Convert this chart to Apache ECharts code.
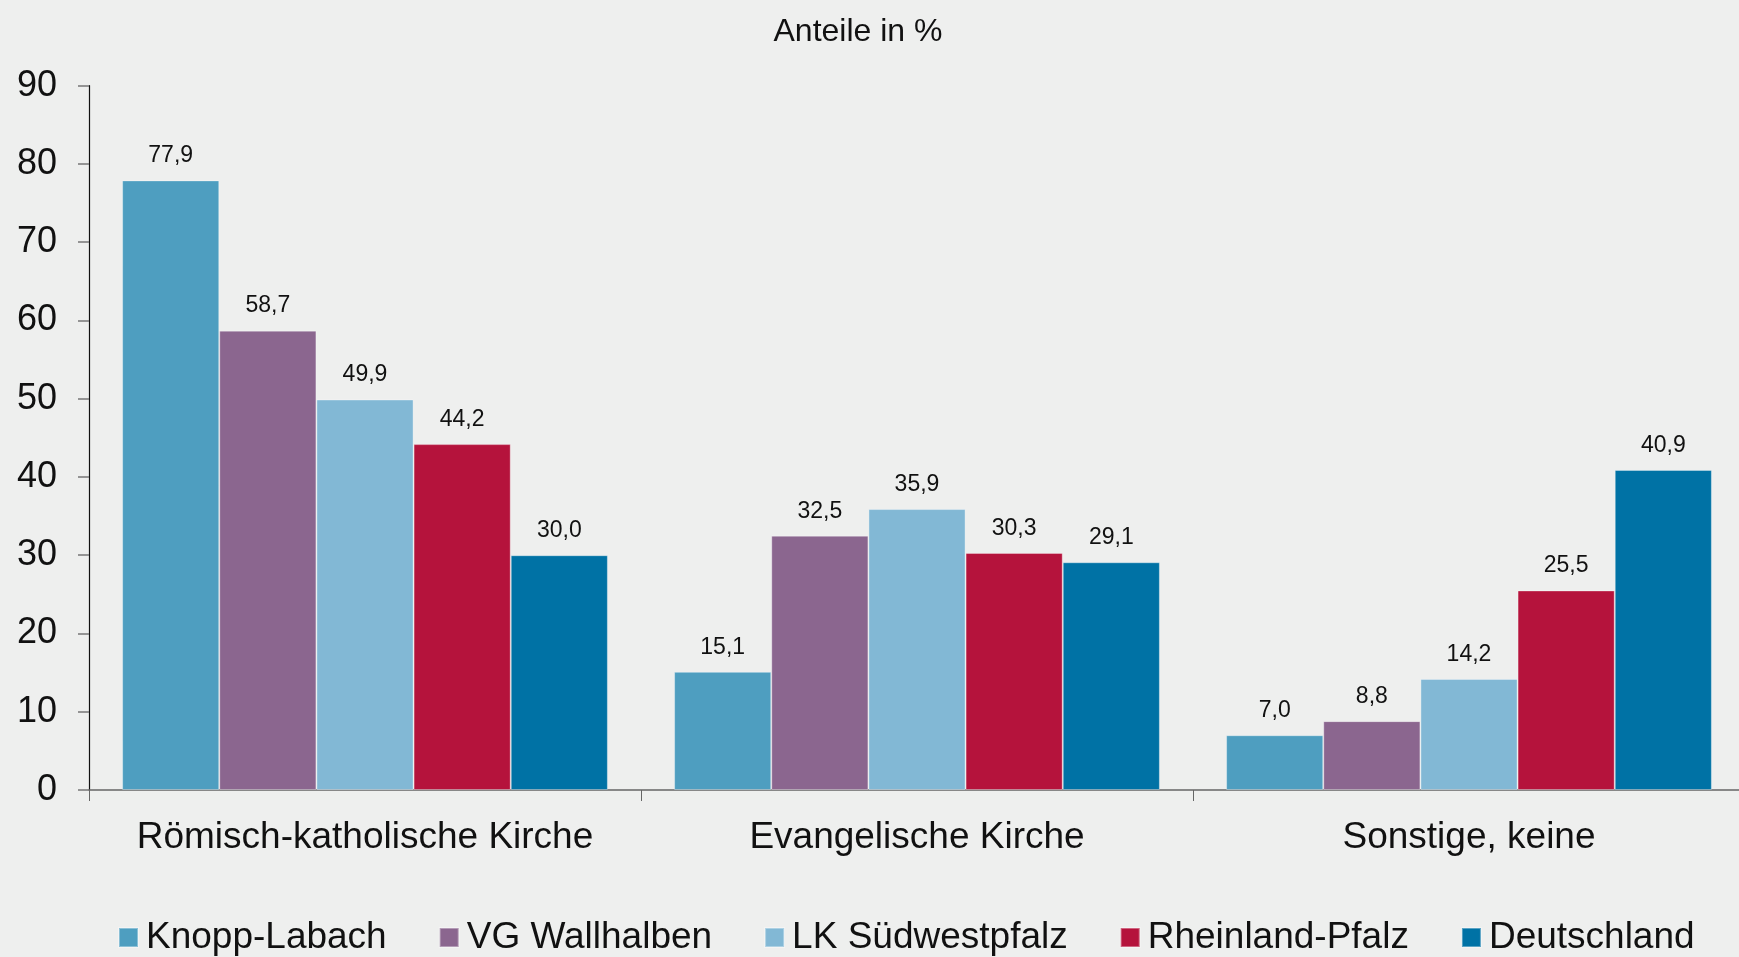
<!DOCTYPE html>
<html>
<head>
<meta charset="utf-8">
<script src="https://cdn.jsdelivr.net/npm/echarts@6/dist/echarts.min.js"></script>
<style>
html,body{margin:0;padding:0;background:#EEEFEE;}
#c{width:1739px;height:957px;}
</style>
</head>
<body>
<div id="c"></div>
<script>
const categories = ['Römisch-katholische Kirche', 'Evangelische Kirche', 'Sonstige, keine'];
const seriesNames = ['Knopp-Labach', 'VG Wallhalben', 'LK Südwestpfalz', 'Rheinland-Pfalz', 'Deutschland'];
const knoppLabach = [77.9, 15.1, 7.0];
const vgWallhalben = [58.7, 32.5, 8.8];
const lkSuedwestpfalz = [49.9, 35.9, 14.2];
const rheinlandPfalz = [44.2, 30.3, 25.5];
const deutschland = [30.0, 29.1, 40.9];
const colors = ['#4E9EC0', '#8B668F', '#82B8D5', '#B5133C', '#0072A5'];
const yTicks = [0, 10, 20, 30, 40, 50, 60, 70, 80, 90];

const values = [knoppLabach, vgWallhalben, lkSuedwestpfalz, rheinlandPfalz, deutschland];

const chart = echarts.init(document.getElementById('c'), null, {renderer: 'canvas'});
const FONT = 'Liberation Sans, Arial, sans-serif';
chart.setOption({
  backgroundColor: '#EEEFEE',
  animation: false,
  textStyle: {fontFamily: FONT},
  title: {
    text: 'Anteile in %',
    left: 853, top: 11,
    textAlign: 'center',
    textStyle: {fontFamily: FONT, fontSize: 32, fontWeight: 'normal', color: '#111'}
  },
  legend: {
    data: seriesNames,
    left: 113, top: 914,
    icon: 'rect',
    itemWidth: 19, itemHeight: 19,
    itemGap: 52,
    textStyle: {fontFamily: FONT, fontSize: 37, color: '#111', padding: [0, 0, 0, 3]}
  },
  grid: {left: 89, width: 1656, top: 85.7, bottom: 167, containLabel: false, outerBoundsMode: 'none'},
  xAxis: {
    type: 'category',
    data: categories,
    axisLine: {lineStyle: {color: '#666', width: 1.5}},
    axisTick: {show: true, length: 11, interval: 0, lineStyle: {color: '#666'}},
    axisLabel: {fontFamily: FONT, fontSize: 37, color: '#111', margin: 29, interval: 0}
  },
  yAxis: {
    type: 'value',
    min: yTicks[0], max: yTicks[yTicks.length - 1], interval: 10,
    axisLine: {show: true, lineStyle: {color: '#111', width: 1.2}},
    axisTick: {show: true, length: 11, lineStyle: {color: '#777', width: 1.5}},
    splitLine: {show: false},
    axisLabel: {fontFamily: FONT, fontSize: 36, color: '#111', margin: 32}
  },
  series: seriesNames.map((name, i) => ({
    name: name,
    type: 'bar',
    data: values[i],
    barGap: '0%',
    barCategoryGap: '12%',
    itemStyle: {color: colors[i], borderColor: 'rgba(255,255,255,0.35)', borderWidth: 1},
    label: {
      show: true,
      position: 'top',
      distance: 13,
      fontFamily: FONT,
      fontSize: 23,
      color: '#111',
      formatter: p => p.value.toFixed(1).replace('.', ',')
    }
  }))
});
</script>
</body>
</html>
